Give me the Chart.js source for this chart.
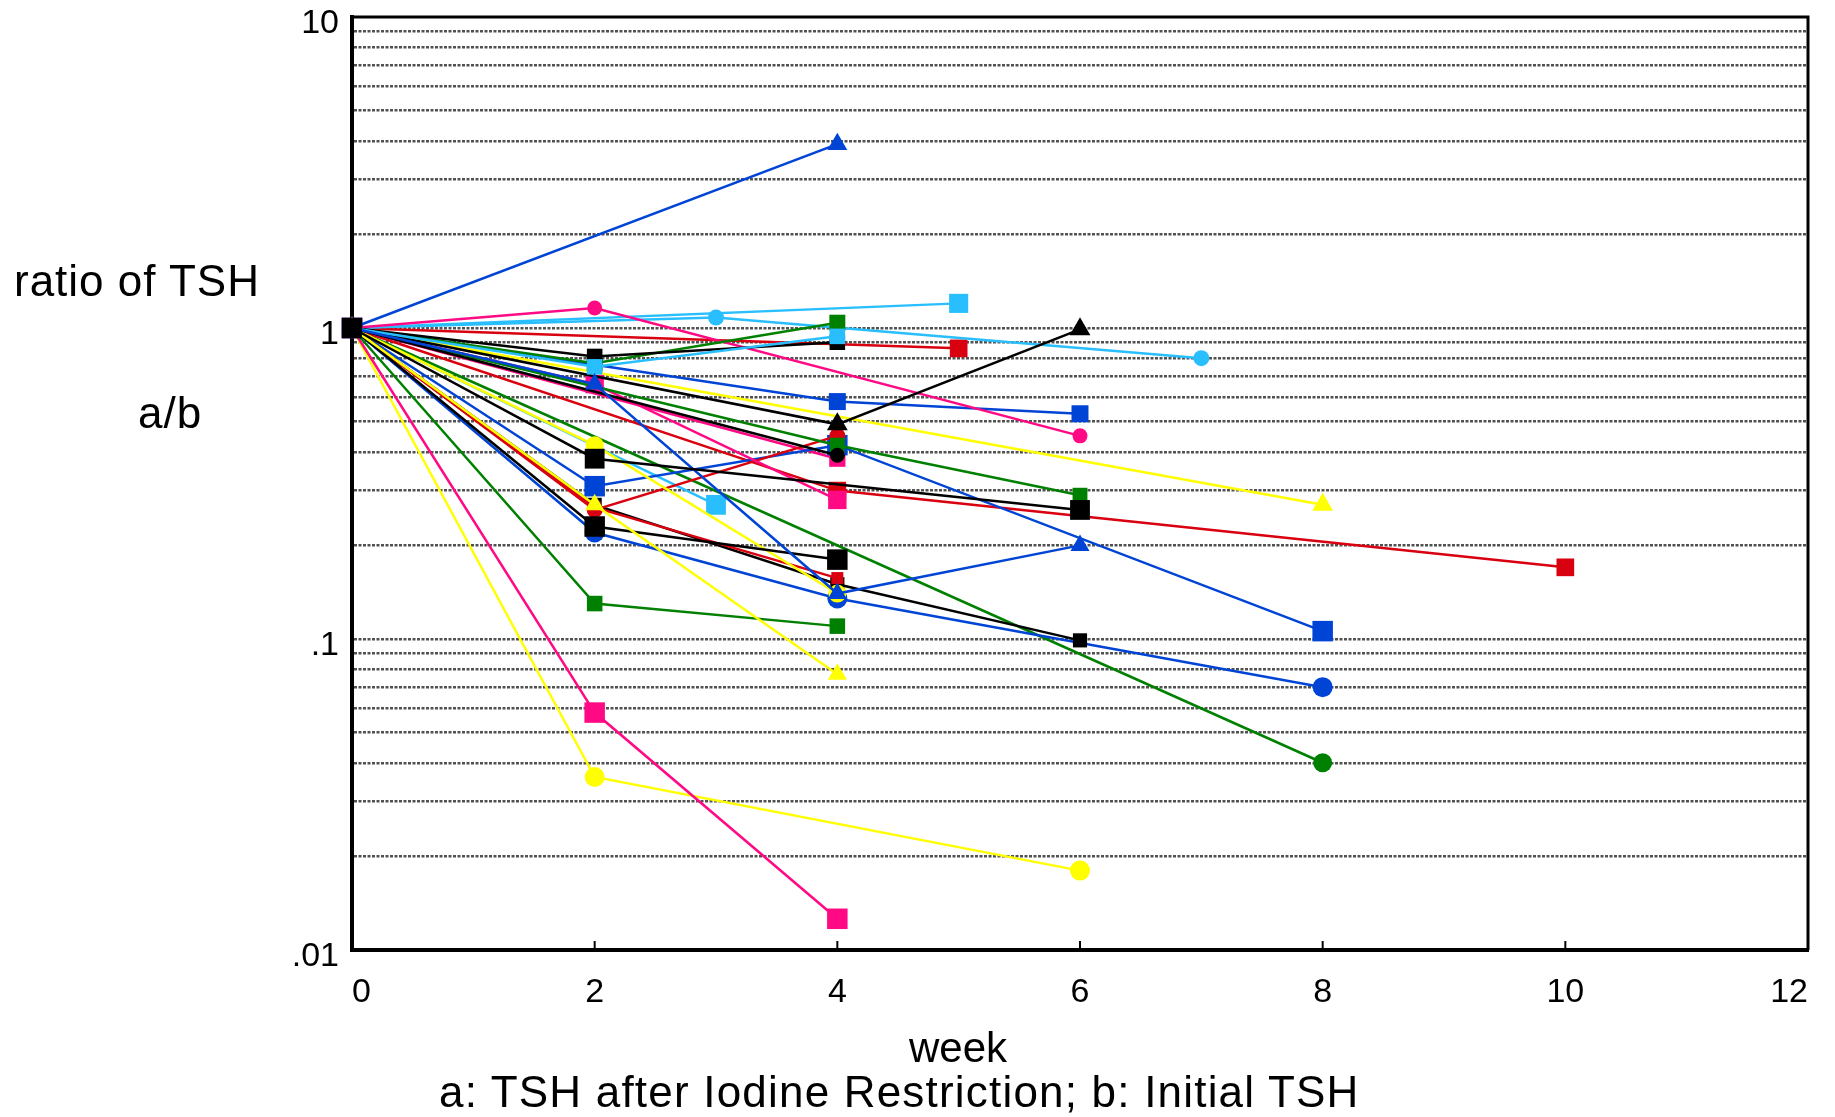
<!DOCTYPE html>
<html>
<head>
<meta charset="utf-8">
<title>ratio of TSH</title>
<script src="https://cdn.jsdelivr.net/npm/chart.js@4.4.1/dist/chart.umd.min.js"></script>
<style>
  html, body { margin: 0; padding: 0; background: #fff; }
  #wrap { position: relative; width: 1835px; height: 1117px; }
  #chart { position: absolute; left: 0; top: 0; }
  .lbl {
    position: absolute;
    font-family: 'Liberation Sans', Arial, sans-serif;
    color: #000;
    white-space: nowrap;
  }
</style>
</head>
<body>
<div id="wrap">
  <canvas id="chart" width="1835" height="1117"></canvas>
  <div class="lbl" style="left:14px; top:256px; font-size:44px; letter-spacing:1px;">ratio of TSH</div>
  <div class="lbl" style="left:138px; top:388px; font-size:44px; letter-spacing:1px;">a/b</div>
  <div class="lbl" style="left:909px; top:1024px; font-size:42px; letter-spacing:0px;">week</div>
  <div class="lbl" style="left:439px; top:1067px; font-size:44px; letter-spacing:1.2px;">a: TSH after Iodine Restriction; b: Initial TSH</div>
</div>
<script>
/* ---- data: [week, ratio a/b] per patient ---- */
const blackBigA   = [[0, 1], [2, 0.38], [6, 0.26]];
const blueTriB    = [[0, 1], [2, 0.66], [4, 0.14], [6, 0.20]];
const yellowTriB  = [[0, 1], [2, 0.27], [4, 0.077]];
const cyanSqB     = [[0, 1], [2, 0.75], [4, 0.94]];
const blackBigB   = [[0, 1], [2, 0.23], [4, 0.18]];
const blackTri    = [[0, 1], [4, 0.49], [6, 0.99]];
const blackCirc   = [[0, 1], [4, 0.39]];
const greenSqB    = [[0, 1], [4, 0.42], [6, 0.29]];
const magentaSqA  = [[0, 1], [2, 0.66], [4, 0.28]];
const yellowCircA = [[0, 1], [2, 0.42], [4, 0.14]];
const redCirc     = [[0, 1], [2, 0.26], [4, 0.45]];
const redSqSmall  = [[0, 1], [2, 0.265], [4, 0.157]];
const blackSmB    = [[0, 1], [2, 0.27], [4, 0.15], [6, 0.099]];
const blueCirc    = [[0, 1], [2, 0.22], [4, 0.135], [8, 0.07]];
const blueSqB     = [[0, 1], [2, 0.31], [4, 0.42], [8, 0.106]];
const magentaSqC  = [[0, 1], [4, 0.38]];
const redSqB      = [[0, 1], [4, 0.30], [10, 0.17]];
const blackSmA    = [[0, 1], [2, 0.81], [4, 0.90]];
const greenSqA    = [[0, 1], [2, 0.77], [4, 1.04]];
const magentaCirc = [[0, 1], [2, 1.16], [6, 0.45]];
const cyanCirc    = [[0, 1], [3, 1.08], [7, 0.80]];
const cyanSqA     = [[0, 1], [5, 1.2]];
const redSqA      = [[0, 1], [5, 0.86]];
const blueSqA     = [[0, 1], [4, 0.58], [6, 0.53]];
const blueTriA    = [[0, 1], [4, 3.9]];
const greenCirc   = [[0, 1], [8, 0.04]];
const yellowTriA  = [[0, 1], [8, 0.27]];
const cyanSqC     = [[0, 1], [3, 0.27]];
const greenSqC    = [[0, 1], [2, 0.13], [4, 0.11]];
const magentaSqB  = [[0, 1], [2, 0.058], [4, 0.0126]];
const yellowCircB = [[0, 1], [2, 0.036], [6, 0.018]];

const xTickValues = [0, 2, 4, 6, 8, 10, 12];
const yLabelValues = [10, 1, 0.1, 0.01];
const yGridValues = [
  0.01, 0.02, 0.03, 0.04, 0.05, 0.06, 0.07, 0.08, 0.09,
  0.1, 0.2, 0.3, 0.4, 0.5, 0.6, 0.7, 0.8, 0.9,
  1, 2, 3, 4, 5, 6, 7, 8, 9, 10
];

/* ---- styles ---- */
const BLUE = '#0044d6';
const MAGENTA = '#ff0a84';
const CYAN = '#29bfff';
const RED = '#d9000f';
const GREEN = '#008000';
const BLACK = '#000000';
const YELLOW = '#ffff00';

// first entry is drawn on top
const SERIES = [
  { data: blackBigA,   color: BLACK,   shape: 'rect',     r: 14 },
  { data: blueTriB,    color: BLUE,    shape: 'triangle', r: 11 },
  { data: yellowTriB,  color: YELLOW,  shape: 'triangle', r: 11 },
  { data: cyanSqB,     color: CYAN,    shape: 'rect',     r: 11 },
  { data: blackBigB,   color: BLACK,   shape: 'rect',     r: 14.5 },
  { data: blackTri,    color: BLACK,   shape: 'triangle', r: 12 },
  { data: blackCirc,   color: BLACK,   shape: 'circle',   r: 7.5 },
  { data: greenSqB,    color: GREEN,   shape: 'rect',     r: 10.5 },
  { data: magentaSqA,  color: MAGENTA, shape: 'rect',     r: 13 },
  { data: yellowCircA, color: YELLOW,  shape: 'circle',   r: 9 },
  { data: redCirc,     color: RED,     shape: 'circle',   r: 8 },
  { data: redSqSmall,  color: RED,     shape: 'rect',     r: 8.5 },
  { data: blackSmB,    color: BLACK,   shape: 'rect',     r: 10 },
  { data: blueCirc,    color: BLUE,    shape: 'circle',   r: 10 },
  { data: blueSqB,     color: BLUE,    shape: 'rect',     r: 14.5 },
  { data: magentaSqC,  color: MAGENTA, shape: 'rect',     r: 11.5 },
  { data: redSqB,      color: RED,     shape: 'rect',     r: 12.5 },
  { data: blackSmA,    color: BLACK,   shape: 'rect',     r: 11 },
  { data: greenSqA,    color: GREEN,   shape: 'rect',     r: 11.3 },
  { data: magentaCirc, color: MAGENTA, shape: 'circle',   r: 7.5 },
  { data: cyanCirc,    color: CYAN,    shape: 'circle',   r: 8 },
  { data: cyanSqA,     color: CYAN,    shape: 'rect',     r: 13.5 },
  { data: redSqA,      color: RED,     shape: 'rect',     r: 12.5 },
  { data: blueSqA,     color: BLUE,    shape: 'rect',     r: 12 },
  { data: blueTriA,    color: BLUE,    shape: 'triangle', r: 11.5 },
  { data: greenCirc,   color: GREEN,   shape: 'circle',   r: 9.5 },
  { data: yellowTriA,  color: YELLOW,  shape: 'triangle', r: 12 },
  { data: cyanSqC,     color: CYAN,    shape: 'rect',     r: 14 },
  { data: greenSqC,    color: GREEN,   shape: 'rect',     r: 11 },
  { data: magentaSqB,  color: MAGENTA, shape: 'rect',     r: 14.5 },
  { data: yellowCircB, color: YELLOW,  shape: 'circle',   r: 10 }
];

const CHART_LEFT = 352;
const CHART_BOTTOM = 950;

function fmtY(v) {
  if (v >= 1) return String(v);
  return String(v).replace(/^0/, '');
}

/* frame on top/right and short x ticks pointing into the plot */
const framePlugin = {
  id: 'frame',
  afterDraw(chart) {
    const { ctx, chartArea: a, scales } = chart;
    ctx.save();
    ctx.strokeStyle = '#000';
    ctx.lineWidth = 3;
    ctx.beginPath();
    ctx.moveTo(a.left, a.top);
    ctx.lineTo(a.right, a.top);
    ctx.lineTo(a.right, a.bottom);
    ctx.stroke();
    ctx.lineWidth = 2;
    xTickValues.slice(1, -1).forEach(v => {
      const px = scales.x.getPixelForValue(v);
      ctx.beginPath();
      ctx.moveTo(px, a.bottom);
      ctx.lineTo(px, a.bottom - 9);
      ctx.stroke();
    });
    ctx.restore();
  }
};

new Chart(document.getElementById('chart'), {
  type: 'line',
  data: {
    datasets: SERIES.map(s => ({
      data: s.data.map(([x, y]) => ({ x, y })),
      borderColor: s.color,
      backgroundColor: s.color,
      borderWidth: 2.5,
      pointStyle: s.shape,
      pointRadius: s.r,
      pointBackgroundColor: s.color,
      pointBorderColor: s.color,
      pointBorderWidth: 0,
      tension: 0,
      fill: false,
      clip: false
    }))
  },
  options: {
    responsive: false,
    devicePixelRatio: 1,
    animation: false,
    events: [],
    layout: { padding: { top: 17, right: 27, left: 0, bottom: 0 } },
    plugins: {
      legend: { display: false },
      tooltip: { enabled: false }
    },
    scales: {
      x: {
        type: 'linear',
        min: 0,
        max: 12,
        afterBuildTicks: (scale) => {
          scale.ticks = xTickValues.map(v => ({ value: v }));
        },
        afterFit: (scale) => {
          scale.height = 1117 - CHART_BOTTOM;
          scale.paddingLeft = 0;
          scale.paddingRight = 0;
        },
        grid: { display: false, drawTicks: false },
        border: { display: true, color: '#000', width: 4 },
        ticks: {
          color: '#000',
          padding: 22,
          maxRotation: 0,
          align: 'inner',
          font: { family: "'Liberation Sans', Arial, sans-serif", size: 34 }
        }
      },
      y: {
        type: 'logarithmic',
        min: 0.01,
        max: 10,
        afterBuildTicks: (scale) => {
          scale.ticks = yGridValues.map(v => ({ value: v }));
        },
        afterFit: (scale) => {
          scale.width = CHART_LEFT;
          scale.paddingTop = 0;
          scale.paddingBottom = 0;
        },
        grid: {
          drawTicks: false,
          lineWidth: 2.5,
          color: (ctx) => {
            const v = ctx.tick ? ctx.tick.value : null;
            return (v === 10 || v === 0.01) ? 'rgba(0,0,0,0)' : 'rgba(50,50,50,0.85)';
          }
        },
        border: { display: true, color: '#000', width: 4, dash: [3, 1.5] },
        ticks: {
          color: '#000',
          padding: 13,
          labelOffset: 7,
          autoSkip: false,
          font: { family: "'Liberation Sans', Arial, sans-serif", size: 34 },
          callback: (v) => yLabelValues.includes(v) ? fmtY(v) : ''
        }
      }
    }
  },
  plugins: [framePlugin]
});
</script>
</body>
</html>
